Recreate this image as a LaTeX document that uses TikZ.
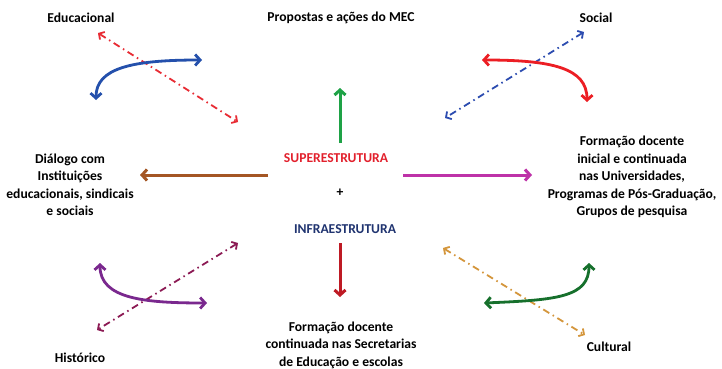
\documentclass[tikz,border=0pt]{standalone}
\usepackage{fontspec}
\setmainfont{Carlito}
\usetikzlibrary{arrows.meta}
\definecolor{superred}{RGB}{226,32,44}
\definecolor{infrablue}{RGB}{32,52,112}
\definecolor{educred}{RGB}{232,44,52}
\definecolor{educblue}{RGB}{36,80,172}
\definecolor{socblue}{RGB}{44,76,176}
\definecolor{socred}{RGB}{236,30,36}
\definecolor{histwine}{RGB}{140,26,84}
\definecolor{histpurple}{RGB}{122,40,142}
\definecolor{cultgold}{RGB}{212,150,60}
\definecolor{cultgreen}{RGB}{22,112,44}
\definecolor{mecgreen}{RGB}{30,162,70}
\definecolor{dialbrown}{RGB}{164,86,36}
\definecolor{univmagenta}{RGB}{190,50,168}
\definecolor{escred}{RGB}{190,26,36}
\begin{document}
\begin{tikzpicture}[x=1pt,y=-1pt,
  txt/.style={font=\bfseries\fontsize{13.6}{17.5}\selectfont,align=center,inner sep=0pt},
  solidarr/.style={line width=3pt,-{Straight Barb[length=5pt,width=11pt]}},
  curvearr/.style={line width=2.8pt,{Straight Barb[length=5pt,width=11pt]}-{Straight Barb[length=5pt,width=11pt]}},
  dasharr/.style={line width=1.8pt,dash pattern=on 7pt off 4pt on 1.5pt off 4pt,
    {Straight Barb[length=4pt,width=9pt]}-{Straight Barb[length=4pt,width=9pt]}}]
  \useasboundingbox[fill=white] (0,0) rectangle (722,369);
  % textos
  \node[txt](educ) at (81,18) {Educacional};
  \node[txt](mec) at (341,18) {Propostas e ações do MEC};
  \node[txt](social) at (596,18) {Social};
  \node[txt,text=superred](super) at (336,158) {SUPERESTRUTURA};
  \node[txt](plus) at (340,193) {+};
  \node[txt,text=infrablue](infra) at (345,229) {INFRAESTRUTURA};
  \node[txt](dialogo) at (70,185) {Diálogo com\\Instituições\\educacionais, sindicais\\e sociais};
  \node[txt](univ) at (632,177) {Formação docente\\inicial e continuada\\nas Universidades,\\Programas de Pós-Graduação,\\Grupos de pesquisa};
  \node[txt](escolas) at (341,345) {Formação docente\\continuada nas Secretarias\\de Educação e escolas};
  \node[txt](hist) at (80,358) {Histórico};
  \node[txt](cult) at (609,347) {Cultural};
  % pontas das setas
  \coordinate (mecA) at (340,143);
  \coordinate (mecB) at (340,88);
  \coordinate (dialA) at (268,175);
  \coordinate (dialB) at (140,175);
  \coordinate (univA) at (403,175);
  \coordinate (univB) at (532,175);
  \coordinate (escA) at (340,243);
  \coordinate (escB) at (340,297);
  \coordinate (educA) at (98,33);
  \coordinate (educB) at (238,122);
  \coordinate (educC) at (96,100);
  \coordinate (educD) at (202,60);
  \coordinate (socA) at (584,32);
  \coordinate (socB) at (445,118);
  \coordinate (socC) at (482,60);
  \coordinate (socD) at (587,102);
  \coordinate (histA) at (238,243);
  \coordinate (histB) at (97,330);
  \coordinate (histC) at (100,263);
  \coordinate (histD) at (207,303);
  \coordinate (cultA) at (443,248);
  \coordinate (cultB) at (585,335);
  \coordinate (cultC) at (484,303);
  \coordinate (cultD) at (589,263);
  % setas retas
  \draw[solidarr,mecgreen] (mecA) -- (mecB);
  \draw[solidarr,dialbrown] (dialA) -- (dialB);
  \draw[solidarr,univmagenta] (univA) -- (univB);
  \draw[solidarr,escred] (escA) -- (escB);
  % setas tracejadas
  \draw[dasharr,educred] (educA) -- (educB);
  \draw[dasharr,socblue] (socA) -- (socB);
  \draw[dasharr,histwine] (histA) -- (histB);
  \draw[dasharr,cultgold] (cultA) -- (cultB);
  % setas curvas
  \draw[curvearr,educblue] (educC) .. controls +(0,-32) and +(-70,0) .. (educD);
  \draw[curvearr,socred] (socC) .. controls +(70,0) and +(0,-34) .. (socD);
  \draw[curvearr,histpurple] (histC) .. controls +(0,36) and +(-62,0) .. (histD);
  \draw[curvearr,cultgreen] (cultC) .. controls +(74,-3) and +(0,34) .. (cultD);
\end{tikzpicture}
\end{document}
